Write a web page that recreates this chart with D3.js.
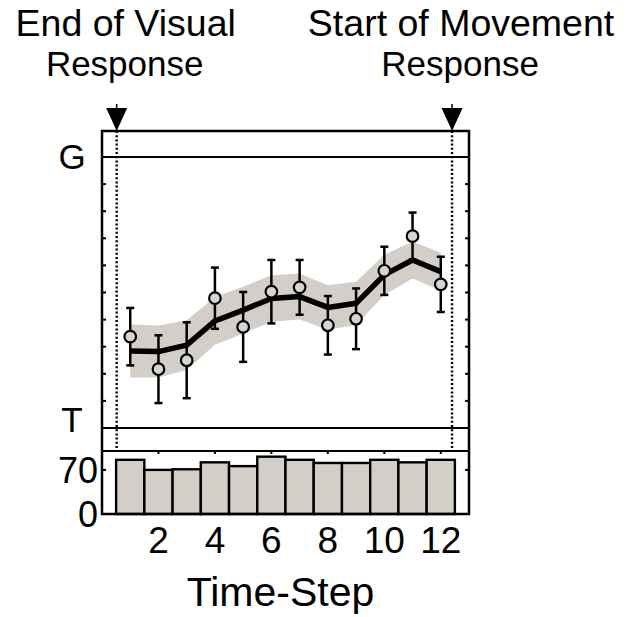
<!DOCTYPE html>
<html>
<head>
<meta charset="utf-8">
<script src="https://cdn.jsdelivr.net/npm/d3@7"></script>
<style>
  body { margin: 0; background: #fff; }
  svg { display: block; font-family: 'Liberation Sans', Arial, sans-serif; }
</style>
</head>
<body>
<svg id="chart" width="632" height="617"></svg>
<script>
// DATA
const steps = [1, 2, 3, 4, 5, 6, 7, 8, 9, 10, 11, 12];
const pointVals = [3.37, 2.17, 2.5, 4.79, 3.73, 5.03, 5.19, 3.79, 4.03, 5.8, 7.08, 5.3];
const pointErr = [1.06, 1.25, 1.4, 1.13, 1.29, 1.17, 1.01, 1.08, 1.12, 0.89, 0.87, 1.02];
const fitVals = [2.84, 2.82, 3.06, 3.95, 4.35, 4.78, 4.85, 4.45, 4.6, 5.65, 6.2, 5.77];
const fitBand = [0.98, 0.96, 0.92, 0.88, 0.86, 0.86, 0.85, 0.82, 0.8, 0.74, 0.68, 0.7];
const trialCounts = [86, 70, 71, 82, 76, 91, 86, 81, 81, 86, 82, 86];
const eventSteps = [0.52, 12.4];
const eventLabels = [['End of Visual', 'Response'], ['Start of Movement', 'Response']];
const xTicks = [2, 4, 6, 8, 10, 12];
const mainTicks = [1, 2, 3, 4, 5, 6, 7, 8, 9];
const mainLabels = [{ v: 10, text: 'G' }, { v: 0, text: 'T' }];
const countTicks = [0, 70];
const xTitle = 'Time-Step';

// SETUP
const svg = d3.select('svg');
const boxL = 102, boxR = 469, boxT = 131, boxSplit = 451, boxB = 514;
const x = d3.scaleLinear().domain([0, 13]).range([boxL, boxR]);
const y = d3.scaleLinear().domain([0, 10]).range([428, 157]);
const yc = d3.scaleLinear().domain([0, 100]).range([boxB, boxSplit]);
const band = '#d3cfc8';

const rows = steps.map((s, i) => ({
  step: s, val: pointVals[i], err: pointErr[i], fit: fitVals[i], band: fitBand[i], n: trialCounts[i]
}));

// BARS
svg.append('g').selectAll('rect').data(rows).enter().append('rect')
  .attr('x', d => x(d.step - 0.5))
  .attr('y', d => yc(d.n))
  .attr('width', x(1) - x(0))
  .attr('height', d => yc(0) - yc(d.n))
  .attr('fill', band).attr('stroke', '#000').attr('stroke-width', 2.4);

// BAND + FIT LINE
svg.append('path').datum(rows)
  .attr('d', d3.area().x(d => x(d.step)).y0(d => y(d.fit - d.band)).y1(d => y(d.fit + d.band)))
  .attr('fill', band);

// ERROR BARS
const eb = svg.append('g').attr('stroke', '#000').attr('stroke-width', 2.5);
rows.forEach(d => {
  eb.append('line').attr('x1', x(d.step)).attr('x2', x(d.step))
    .attr('y1', y(d.val - d.err)).attr('y2', y(d.val + d.err));
  [d.val - d.err, d.val + d.err].forEach(v => {
    eb.append('line').attr('x1', x(d.step) - 4).attr('x2', x(d.step) + 4)
      .attr('y1', y(v)).attr('y2', y(v));
  });
});

svg.append('path').datum(rows)
  .attr('d', d3.line().x(d => x(d.step)).y(d => y(d.fit)))
  .attr('fill', 'none').attr('stroke', '#000').attr('stroke-width', 5.5)
  .attr('stroke-linejoin', 'round');

svg.append('g').selectAll('circle').data(rows).enter().append('circle')
  .attr('cx', d => x(d.step)).attr('cy', d => y(d.val)).attr('r', 5.8)
  .attr('fill', '#d4d4d4').attr('stroke', '#000').attr('stroke-width', 2.2);

// FRAME
const frame = svg.append('g').attr('stroke', '#000').attr('fill', 'none');
frame.append('rect').attr('x', boxL).attr('y', boxT).attr('width', boxR - boxL).attr('height', boxB - boxT)
  .attr('stroke-width', 2.5);
[y(10), y(0), boxSplit].forEach(yy => {
  frame.append('line').attr('x1', boxL).attr('x2', boxR).attr('y1', yy).attr('y2', yy).attr('stroke-width', 2);
});
mainTicks.forEach(v => {
  frame.append('line').attr('x1', boxL).attr('x2', boxL + 4).attr('y1', y(v)).attr('y2', y(v)).attr('stroke-width', 2);
  frame.append('line').attr('x1', boxR - 4).attr('x2', boxR).attr('y1', y(v)).attr('y2', y(v)).attr('stroke-width', 2);
});
countTicks.forEach(v => {
  frame.append('line').attr('x1', boxL).attr('x2', boxL + 4).attr('y1', yc(v)).attr('y2', yc(v)).attr('stroke-width', 2);
  frame.append('line').attr('x1', boxR - 4).attr('x2', boxR).attr('y1', yc(v)).attr('y2', yc(v)).attr('stroke-width', 2);
});
xTicks.forEach(t => {
  frame.append('line').attr('x1', x(t)).attr('x2', x(t)).attr('y1', boxSplit).attr('y2', boxSplit + 3).attr('stroke-width', 2);
});

// EVENT MARKERS
eventSteps.forEach((s, i) => {
  svg.append('line').attr('x1', x(s)).attr('x2', x(s)).attr('y1', boxT).attr('y2', boxSplit)
    .attr('stroke', '#000').attr('stroke-width', 2.4).attr('stroke-dasharray', '2,2.2');
  svg.append('path')
    .attr('d', `M${x(s) - 10.5},${boxT - 23}L${x(s) + 10.5},${boxT - 23}L${x(s)},${boxT}Z`)
    .attr('fill', '#000');
  svg.append('line').attr('x1', x(s)).attr('x2', x(s)).attr('y1', boxT - 27).attr('y2', boxT - 20)
    .attr('stroke', '#000').attr('stroke-width', 1.5);
  eventLabels[i].forEach((txt, j) => {
    svg.append('text').attr('x', x(s) + 8 + (j ? 0 : 1)).attr('y', j ? 76 : 36)
      .attr('text-anchor', 'middle').attr('font-size', j ? 35 : 37.5).text(txt);
  });
});

// LABELS
mainLabels.forEach(m => {
  svg.append('text').attr('x', 72).attr('y', y(m.v) + (m.v ? 12 : 4)).attr('text-anchor', 'middle')
    .attr('font-size', 35).text(m.text);
});
countTicks.forEach(v => {
  svg.append('text').attr('x', boxL - 4).attr('y', yc(v) + 13).attr('text-anchor', 'end')
    .attr('font-size', 36).text(v);
});
xTicks.forEach(t => {
  svg.append('text').attr('x', x(t)).attr('y', 553).attr('text-anchor', 'middle')
    .attr('font-size', 37).text(t);
});
svg.append('text').attr('x', x(6.5) - 5).attr('y', 606).attr('text-anchor', 'middle')
  .attr('font-size', 41).text(xTitle);
</script>
</body>
</html>
